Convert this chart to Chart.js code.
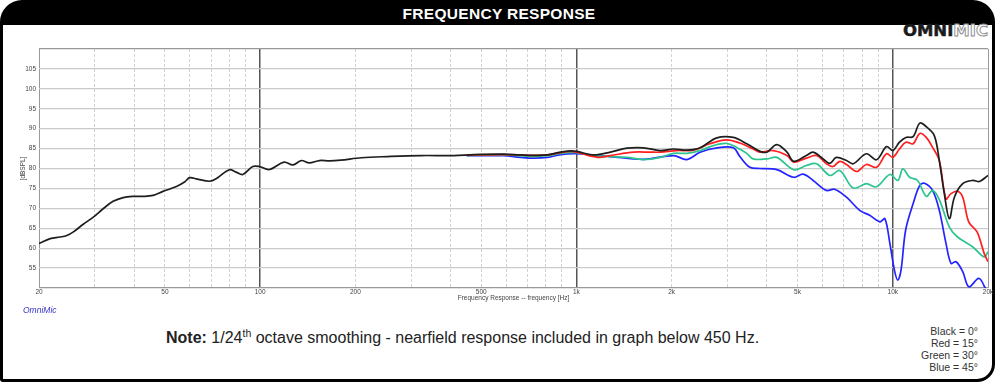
<!DOCTYPE html>
<html>
<head>
<meta charset="utf-8">
<script src="https://cdn.jsdelivr.net/npm/chart.js@4"></script>
<style>
html,body{margin:0;padding:0;background:#fff;width:1000px;height:388px;overflow:hidden;font-family:"Liberation Sans",Arial,sans-serif;}
#frame{position:absolute;left:0;top:0;width:989px;height:354px;border:3px solid #000;border-top:25px solid #000;border-radius:22px 22px 18px 3px;}
#title{position:absolute;left:0;top:5px;width:998px;text-align:center;color:#fff;font-weight:bold;font-size:15.5px;line-height:18px;letter-spacing:0.3px;}
#logo{position:absolute;right:12px;top:22px;font-family:"DejaVu Sans",sans-serif;font-weight:bold;font-size:16.5px;line-height:17px;color:#1a1a1a;-webkit-text-stroke:0.5px #1a1a1a;}
#logo span{color:#fff;-webkit-text-stroke:0.9px #8a8a8a;}
#omni{position:absolute;left:23px;top:305px;font-style:italic;font-size:8.5px;color:#3333cc;}
#note{position:absolute;left:166px;top:329px;font-size:16px;line-height:18px;color:#222;white-space:nowrap;}
#note sup{font-size:10.5px;line-height:0;vertical-align:6px;}
#legend{position:absolute;right:22px;top:325px;text-align:right;font-size:10.5px;line-height:12px;color:#333;}
#wrap{position:absolute;left:0;top:40px;width:1000px;height:270px;}
</style>
</head>
<body>
<div id="frame"></div>
<div id="title">FREQUENCY RESPONSE</div>
<div id="logo">OMNI<span>MIC</span></div>
<div id="wrap"><canvas id="c" width="1000" height="270"></canvas></div>
<div id="omni">OmniMic</div>
<div id="note"><b>Note:</b> 1/24<sup>th</sup> octave smoothing - nearfield response included in graph below 450 Hz.</div>
<div id="legend">Black = 0°<br>Red = 15°<br>Green = 30°<br>Blue = 45°</div>
<script>
// ---- tick labels ----
const xTickValues = [20, 50, 100, 200, 500, 1000, 2000, 5000, 10000, 20000];
const xTickLabels = ['20', '50', '100', '200', '500', '1k', '2k', '5k', '10k', '20k'];
const yTickLabels = [55, 60, 65, 70, 75, 80, 85, 90, 95, 100, 105];

// ---- series: 0° (black) ----
const blackFreq = [20, 21.7, 23.3, 24.5, 25.7, 27.6, 29.7, 31.9, 34.3, 36.9, 39.7, 42.7, 45.9, 49.3, 54.4, 57.7, 59.9, 62.9, 69.2, 72.6, 79.9, 84, 88.2, 94.8, 99.4, 107, 119, 127, 135, 143, 154, 166, 180, 209, 253, 322, 410, 474, 589, 666, 732, 810, 890, 957, 1000, 1134, 1280, 1445, 1630, 1840, 2027, 2233, 2460, 2777, 3135, 3454, 3805, 3996, 4299, 4630, 4860, 5330, 5600, 6025, 6330, 6630, 7140, 7500, 8250, 8880, 9560, 10000, 10500, 11000, 11600, 12170, 12760, 13530, 14030, 14550, 15100, 15660, 16640, 17900, 18800, 20000];
const blackDb = [61.2, 62.4, 62.8, 63.2, 64.1, 66.0, 67.8, 69.9, 71.75, 72.7, 73.0, 73.0, 73.25, 74.25, 75.5, 76.6, 77.7, 77.4, 76.8, 77.4, 79.7, 79.1, 78.5, 80.5, 80.5, 79.75, 81.6, 80.9, 82.0, 81.4, 82.0, 81.9, 82.1, 82.7, 83.0, 83.25, 83.25, 83.5, 83.6, 83.4, 83.3, 83.4, 84.1, 84.4, 84.3, 83.4, 84.1, 85.1, 85.2, 84.5, 84.9, 84.6, 85.2, 87.7, 87.8, 86.2, 84.3, 84.1, 86.0, 84.1, 81.8, 83.25, 84.1, 82.4, 81.3, 82.8, 82.0, 81.2, 83.7, 82.2, 85.5, 84.5, 86.6, 87.8, 88.0, 91.4, 90.5, 88.25, 82.0, 73.7, 67.4, 72.8, 76.2, 77.0, 76.75, 78.25];

// ---- series: 15° (red) ----
const redFreq = [450, 474, 589, 666, 732, 810, 890, 957, 1000, 1170, 1280, 1516, 1710, 1840, 2075, 2343, 2640, 2980, 3285, 3620, 3805, 4184, 4630, 4860, 5330, 5740, 6170, 6470, 6800, 7140, 7690, 8250, 8880, 9560, 10000, 10500, 11000, 11600, 12170, 12760, 13360, 14030, 14730, 15280, 16030, 16640, 17380, 18470, 19450, 20000];
const redDb = [83.3, 83.4, 83.5, 83.4, 83.3, 83.4, 84.0, 84.3, 84.1, 82.8, 83.25, 84.1, 84.1, 84.1, 84.5, 84.6, 86.2, 87.2, 86.4, 84.9, 84.1, 84.5, 83.25, 81.6, 82.6, 83.25, 81.2, 80.5, 81.8, 81.0, 79.25, 81.0, 80.3, 83.7, 82.8, 84.9, 86.6, 86.2, 88.8, 87.8, 85.3, 82.0, 72.4, 73.7, 74.3, 72.8, 66.6, 64.1, 58.7, 56.6];

// ---- series: 30° (green) ----
const greenFreq = [450, 589, 732, 810, 890, 1000, 1134, 1280, 1445, 1630, 1840, 2027, 2233, 2460, 2707, 2980, 3210, 3454, 3620, 3996, 4299, 4860, 5330, 5740, 6330, 6800, 7500, 8250, 8880, 9790, 10380, 10760, 11300, 11980, 12760, 13360, 14030, 15100, 16030, 17900, 19450, 20000];
const greenDb = [83.3, 83.4, 83.0, 83.2, 83.8, 84.0, 83.25, 83.0, 82.8, 82.25, 82.8, 83.8, 83.8, 84.5, 85.75, 86.3, 85.3, 83.8, 82.4, 82.4, 82.8, 79.7, 80.75, 81.2, 78.25, 79.5, 75.1, 76.2, 75.4, 78.5, 77.0, 79.9, 77.8, 77.0, 73.0, 74.5, 72.2, 65.3, 62.8, 60.3, 57.8, 59.1];

// ---- series: 45° (blue) ----
const blueFreq = [450, 589, 666, 732, 810, 890, 1000, 1280, 1630, 2027, 2233, 2460, 2777, 3135, 3285, 3535, 3805, 4299, 4860, 5210, 5600, 6170, 6550, 7140, 7860, 8450, 9100, 9440, 9790, 10120, 10370, 10620, 10980, 11600, 12170, 12600, 13360, 14030, 14730, 15280, 15860, 16640, 17400, 18700, 19450, 20000];
const blueDb = [83.2, 83.2, 82.8, 82.6, 82.8, 83.5, 83.7, 83.0, 82.3, 83.25, 82.25, 84.1, 85.2, 85.2, 83.0, 80.3, 80.0, 79.7, 77.8, 78.6, 77.0, 74.5, 74.8, 72.8, 69.5, 68.25, 66.6, 67.4, 61.2, 54.5, 52.0, 54.5, 64.5, 71.2, 75.75, 76.3, 74.5, 69.5, 61.2, 56.2, 56.6, 54.1, 50.3, 52.4, 50.5, 48.0];

// grid positions (1-2-...-9 per decade) built from the decades
const xGrid = [];
for (const d of [10, 100, 1000]) for (let m = 1; m <= 9; m++) { const v = d * m; if (v >= 20) xGrid.push(v); }
xGrid.push(10000, 20000);
const yGrid = [];
for (let v = 50; v <= 110; v += 5) yGrid.push(v);

const pts = (f, d) => f.map((x, i) => ({x: x, y: d[i]}));
const isDecade = v => v === 100 || v === 1000 || v === 10000;
const isEdgeX = v => v === 20 || v === 20000;

const mk = (label, f, d, color, order) => ({
  label, data: pts(f, d), borderColor: color, borderWidth: 1.7, pointRadius: 0,
  tension: 0.35, fill: false, order
});

new Chart(document.getElementById('c'), {
  type: 'line',
  data: {
    datasets: [
      mk('0°', blackFreq, blackDb, '#1e1e1e', 0),
      mk('15°', redFreq, redDb, '#ff1f1f', 1),
      mk('30°', greenFreq, greenDb, '#2cc58e', 2),
      mk('45°', blueFreq, blueDb, '#2424ff', 3)
    ]
  },
  options: {
    responsive: false, animation: false, devicePixelRatio: 1,
    layout: {padding: {top: 9, right: 12, left: 0, bottom: 0}},
    plugins: {legend: {display: false}, tooltip: {enabled: false}},
    scales: {
      x: {
        type: 'logarithmic', min: 20, max: 20000,
        afterBuildTicks: s => { s.ticks = xGrid.map(v => ({value: v})); },
        afterFit: s => { s.height = 22; },
        ticks: {
          autoSkip: false, maxRotation: 0, padding: 0, color: '#444',
          font: {size: 6.5, family: 'Liberation Sans'},
          callback: v => { const i = xTickValues.indexOf(v); return i >= 0 ? xTickLabels[i] : ''; }
        },
        grid: {
          drawTicks: false,
          color: c => { const v = c.tick && c.tick.value; return isDecade(v) ? '#555' : (isEdgeX(v) ? '#999' : '#d2d2d2'); },
          lineWidth: c => { const v = c.tick && c.tick.value; return isDecade(v) ? 1.5 : 1; }
        },
        border: {
          display: false,
          dash: c => { const v = c.tick && c.tick.value; return (isDecade(v) || isEdgeX(v)) ? [] : [3, 2]; }
        },
        title: {display: true, text: 'Frequency Response -- frequency [Hz]', color: '#444',
          font: {size: 6.5, family: 'Liberation Sans'}, padding: {top: 0, bottom: 8}}
      },
      y: {
        type: 'linear', min: 50, max: 110,
        afterBuildTicks: s => { s.ticks = yGrid.map(v => ({value: v})); },
        afterFit: s => { s.width = 39; },
        ticks: {
          autoSkip: false, padding: 3, color: '#444',
          font: {size: 6.5, family: 'Liberation Sans'},
          callback: v => yTickLabels.includes(v) ? String(v) : ''
        },
        grid: {
          drawTicks: false,
          color: c => { const v = c.tick && c.tick.value; return (v === 50 || v === 110) ? '#999' : '#cbcbcb'; },
          lineWidth: 1.3
        },
        border: {display: false},
        title: {display: true, text: '[dBSPL]', color: '#444',
          font: {size: 6.5, family: 'Liberation Sans'}, padding: {top: 19}}
      }
    }
  }
});
</script>
</body>
</html>
